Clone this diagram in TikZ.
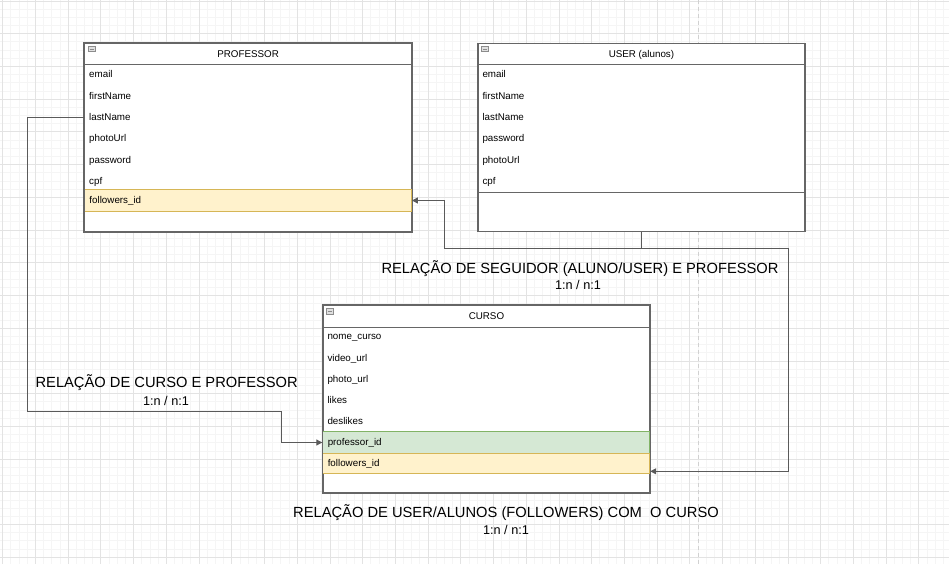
\documentclass[tikz,border=0pt]{standalone}
\usepackage{fontspec}
\setmainfont{Liberation Sans}
\usetikzlibrary{arrows.meta,calc,positioning}
\definecolor{frame}{HTML}{666666}
\definecolor{wire}{HTML}{5A5A5A}
\definecolor{fkyellow}{HTML}{FFF2CC}
\definecolor{fkyellowline}{HTML}{D6B656}
\definecolor{fkgreen}{HTML}{D5E8D4}
\definecolor{fkgreenline}{HTML}{82B366}
\newcommand\sizefont[1]{\fontsize{#1}{#1}\selectfont}
\tikzset{minorgrid/.style={draw=black!4,line width=0.8pt}}
\tikzset{majorgrid/.style={draw=black!11,line width=0.8pt}}
\tikzset{entity/.style={draw=frame,fill=white,line width=1.3pt,minimum width=327pt,anchor=north west,inner sep=0}}
\tikzset{entityline/.style={draw=frame,line width=1.3pt}}
\tikzset{entityhead/.style={draw=frame,line width=1.3pt,minimum width=327pt,minimum height=21.5pt,anchor=north west,inner sep=0,text height=7pt,text depth=1pt,font=\sizefont{9.8}}}
\tikzset{field/.style={anchor=west,text width=317pt,inner xsep=5pt,inner ysep=0,minimum height=21.3pt,text height=7pt,text depth=1pt,align=left,font=\sizefont{9.8}}}
\tikzset{fkfollow/.style={field,fill=fkyellow,draw=fkyellowline,line width=0.9pt}}
\tikzset{fkprof/.style={field,fill=fkgreen,draw=fkgreenline,line width=0.9pt}}
\tikzset{link/.style={draw=wire,line width=1pt,-{Triangle[length=6pt,width=6pt]}}}
\tikzset{relname/.style={anchor=base,inner sep=0,font=\sizefont{14.7}}}
\tikzset{relratio/.style={anchor=base,inner sep=0,font=\sizefont{12.7}}}
\tikzset{icon/.style={draw=black!45,fill=black!12,line width=0.6pt}}

\begin{document}
\begin{tikzpicture}[x=1pt,y=-1pt]
    \useasboundingbox (0,0) rectangle (949,564);
    \fill [white] (0,0) rectangle (949,564);
    % grid and page break
    \foreach \i in {0,...,116} \draw [minorgrid] (2.7+8.18*\i,0) -- ++(0,564);
    \foreach \i in {0,...,69} \draw [minorgrid] (0,1+8.18*\i) -- ++(949,0);
    \foreach \i in {0,...,29} \draw [majorgrid] (2.7+32.72*\i,0) -- ++(0,564);
    \foreach \i in {0,...,17} \draw [majorgrid] (0,1+32.72*\i) -- ++(949,0);
    \draw [black!18,line width=1pt,dash pattern=on 4pt off 3pt] (698,0) -- (698,564);
    % PROFESSOR
    \node [entity,minimum height=188pt] (prof) at (84,42.7) {};
    \node [entityhead] (prof-head) at (prof.north west) {PROFESSOR};
    \foreach \f [count=\i from 0] in {email,firstName,lastName,photoUrl,password,cpf}
        \node [field] (prof-\f) at (84,75+21.33*\i) {\f};
    \node [fkfollow,minimum height=22.4pt] (prof-followers) at (84,200.5) {followers\_id};
    \draw [entityline] (prof.north west) rectangle (prof.south east);
    \draw [icon] ($(prof.north west)+(4,3.5)$) rectangle ++(7,5.5) ++(-5.5,-2.75) -- ++(4,0);
    % USER (alunos)
    \node [entity,minimum height=188pt] (user) at (477.3,42.7) {};
    \node [entityhead] (user-head) at (user.north west) {USER (alunos)};
    \foreach \f [count=\i from 0] in {email,firstName,lastName,password,photoUrl,cpf}
        \node [field] (user-\f) at (477.3,75+21.33*\i) {\f};
    \draw [entityline] (user-cpf.south west) -- (user-cpf.south east);
    \draw [icon] ($(user.north west)+(4,3.5)$) rectangle ++(7,5.5) ++(-5.5,-2.75) -- ++(4,0);
    % CURSO
    \node [entity,minimum height=187.3pt] (curso) at (322.3,305) {};
    \node [entityhead] (curso-head) at (curso.north west) {CURSO};
    \foreach \n/\t [count=\i from 0] in {nome/nome\_curso,video/video\_url,photo/photo\_url,likes/likes,deslikes/deslikes}
        \node [field] (curso-\n) at (322.3,336.7+21.3*\i) {\t};
    \node [fkprof,minimum height=21.6pt] (curso-professor) at (322.3,442.5) {professor\_id};
    \node [fkfollow,minimum height=20pt] (curso-followers) at (322.3,463.3) {followers\_id};
    \draw [entityline] (curso.north west) rectangle (curso.south east);
    \draw [icon] ($(curso.north west)+(4,3.5)$) rectangle ++(7,5.5) ++(-5.5,-2.75) -- ++(4,0);
    % relations
    \draw [link] (prof-lastName.west) -- ++(-56.7,0) |- (281.7,411) |- (curso-professor.west);
    \draw [link] (user.south) -- ++(0,16) -| (444,200.5) -- (prof-followers.east);
    \draw [link] (user.south) -- ++(0,16) -| (788,471.3) -- ([yshift=-8pt]curso-followers.east);
    \node [relname] (seg-name) at (580,273.3) {RELAÇÃO DE SEGUIDOR (ALUNO/USER) E PROFESSOR};
    \node [relratio] (seg-ratio) at (578,289.2) {1:n / n:1};
    \node [relname] (cp-name) at (166.7,387.3) {RELAÇÃO DE CURSO E PROFESSOR};
    \node [relratio] (cp-ratio) at (166,405) {1:n / n:1};
    \node [relname] (uc-name) at (506,517.7) {RELAÇÃO DE USER/ALUNOS (FOLLOWERS) COM\ \ O CURSO};
    \node [relratio] (uc-ratio) at (506,534.3) {1:n / n:1};
\end{tikzpicture}
\end{document}
